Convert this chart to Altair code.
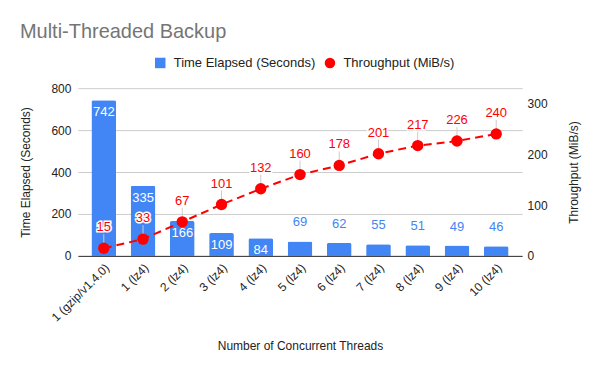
import altair as alt
import pandas as pd

categories = ["1 (gzip/v1.4.0)", "1 (lz4)", "2 (lz4)", "3 (lz4)", "4 (lz4)", "5 (lz4)",
              "6 (lz4)", "7 (lz4)", "8 (lz4)", "9 (lz4)", "10 (lz4)"]
time_elapsed = [742, 335, 166, 109, 84, 69, 62, 55, 51, 49, 46]
throughput = [15, 33, 67, 101, 132, 160, 178, 201, 217, 226, 240]
series_names = ["Time Elapsed (Seconds)", "Throughput (MiB/s)"]
left_ticks = [0, 200, 400, 600, 800]
right_ticks = [0, 100, 200, 300]

df = pd.DataFrame({"threads": categories, "time": time_elapsed, "throughput": throughput})

BLUE = "#4285F4"
RED = "#FF0000"
FONT = "Liberation Sans, Arial"
TXT = "#222222"

base = alt.Chart(df)

x = alt.X("threads:N", sort=categories,
          scale=alt.Scale(paddingInner=0.37, paddingOuter=0.345),
          axis=alt.Axis(title="Number of Concurrent Threads", labelAngle=-45, ticks=False,
                        domainColor="#333333", labelColor=TXT, labelFontSize=12,
                        labelPadding=6, titlePadding=17))

yL = alt.Y("time:Q", scale=alt.Scale(domain=[0, 800]),
           axis=alt.Axis(values=left_ticks, title="Time Elapsed (Seconds)", grid=True,
                         gridColor="#cccccc", domain=False, ticks=False, labelPadding=7,
                         titlePadding=18, labelColor=TXT))

yR = alt.Y("throughput:Q", scale=alt.Scale(domain=[0, 330]),
           axis=alt.Axis(orient="right", values=right_ticks, title="Throughput (MiB/s)",
                         titleAngle=270, grid=False, domain=False, ticks=False, labelPadding=5,
                         titlePadding=33, labelColor=TXT))

legend = alt.Legend(title=None, orient="none", legendX=76, legendY=-32, direction="horizontal",
                    symbolSize=110, labelFontSize=13, labelColor=TXT, columnPadding=8,
                    labelOffset=7, symbolOpacity=1, labelFont=FONT, symbolStrokeWidth=0)
color_scale = alt.Scale(domain=series_names, range=[BLUE, RED])
shape_scale = alt.Scale(domain=series_names, range=["square", "circle"])

bars = base.transform_calculate(series="'Time Elapsed (Seconds)'").mark_bar(
    cornerRadiusTopLeft=2, cornerRadiusTopRight=2).encode(
    x=x, y=yL, color=alt.Color("series:N", scale=color_scale, legend=legend))

bar_in = base.transform_filter("datum.time > 75").mark_text(
    dy=12, color="white", fontSize=13, font=FONT).encode(x=x, y=yL, text="time:Q")
bar_out = base.transform_filter("datum.time <= 75").mark_text(
    dy=-19, color=BLUE, fontSize=13, font=FONT).encode(x=x, y=yL, text="time:Q")

left_group = alt.layer(bars, bar_in, bar_out)

line = base.mark_line(color=RED, strokeDash=[8, 5], strokeWidth=2).encode(x=x, y=yR)
leader = base.mark_rule(color="#cccccc", strokeWidth=1, y2Offset=-14).encode(
    x=x, y=yR, y2="throughput:Q")
points = base.transform_calculate(series="'Throughput (MiB/s)'").mark_point(
    filled=True, size=130, opacity=1).encode(
    x=x, y=yR,
    color=alt.Color("series:N", scale=color_scale, legend=legend),
    shape=alt.Shape("series:N", scale=shape_scale, legend=legend))
halo = base.mark_text(dy=-21, stroke="white", strokeWidth=3, fill="white",
                      fontSize=13, font=FONT).encode(x=x, y=yR, text="throughput:Q")
pt_text = base.mark_text(dy=-21, color=RED, fontSize=13, font=FONT).encode(
    x=x, y=yR, text="throughput:Q")

right_group = alt.layer(line, leader, points, halo, pt_text)

chart = alt.layer(left_group, right_group).resolve_scale(y="independent").properties(
    width=445, height=168,
    title=alt.TitleParams("Multi-Threaded Backup", anchor="start", frame="bounds",
                          fontSize=20, color="#757575", font=FONT, fontWeight="normal",
                          offset=14),
    autosize=alt.AutoSizeParams(type="none"),
    padding={"left": 70, "top": 80, "right": 70, "bottom": 110},
).configure_view(stroke=None).configure_axis(
    labelFont=FONT, titleFont=FONT, labelFontSize=12, titleFontSize=12,
    titleFontWeight="normal", titleColor=TXT)

chart.save("out.html", embed_options={"renderer": "svg", "actions": False})
